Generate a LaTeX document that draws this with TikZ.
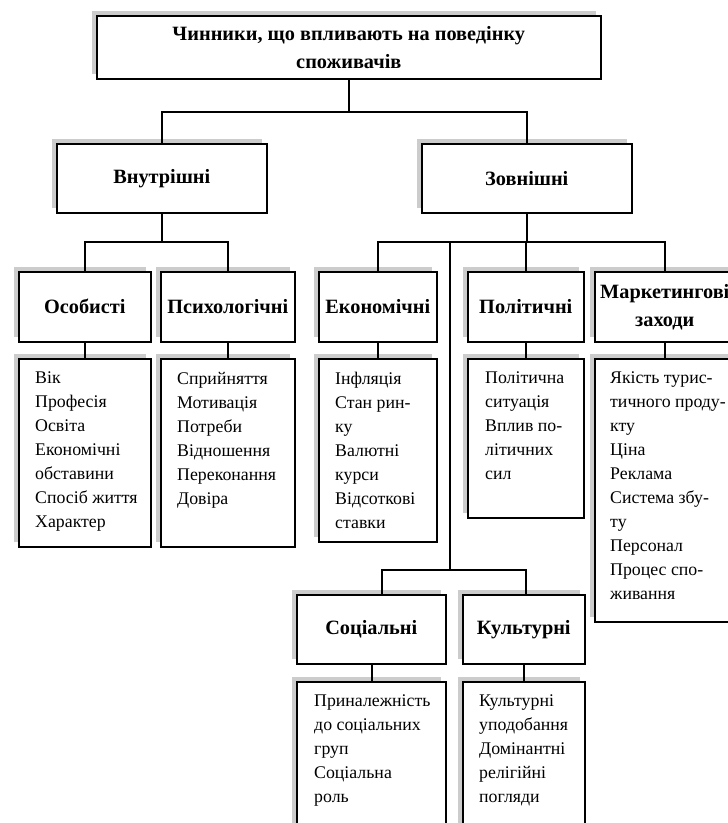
\documentclass[tikz,border=0pt]{standalone}
\usepackage{fontspec}
\setmainfont{Liberation Serif}
\usetikzlibrary{shadows}
\begin{document}
\begin{tikzpicture}[x=1pt,y=-1pt,
  sbox/.style={draw, line width=1.6pt, fill=white, inner sep=0pt, anchor=north west,
    general shadow={fill=gray!40, shadow xshift=-5pt, shadow yshift=5pt}},
  head/.style={font=\bfseries\fontsize{20.3}{28}\selectfont, align=center},
  det/.style={font=\fontsize{17.8}{24}\selectfont, align=left, anchor=north west, inner sep=0pt},
  conn/.style={line width=1.6pt}]
\clip (0,0) rectangle (728,823);
\fill[white] (0,0) rectangle (728,823);

% level 0
\node[sbox, head, minimum width=504pt, minimum height=63pt] (title) at (96,15)
  {Чинники, що впливають на поведінку\\споживачів};

% level 1
\node[sbox, head, minimum width=210pt, minimum height=69pt] (vn) at (56,143) {Внутрішні};
\node[sbox, head, minimum width=210pt, minimum height=69pt] (zov) at (421,143) {Зовнішні};

% level 2
\node[sbox, head, minimum width=132pt, minimum height=70pt] (os) at (18,271) {Особисті};
\node[sbox, head, minimum width=134pt, minimum height=70pt] (ps) at (160,271) {Психологічні};
\node[sbox, head, minimum width=118pt, minimum height=70pt] (ek) at (318,271) {Економічні};
\node[sbox, head, minimum width=116pt, minimum height=70pt] (pol) at (467,271) {Політичні};
\node[sbox, head, minimum width=140pt, minimum height=70pt] (mk) at (594,271) {Маркетингові\\заходи};

% level 3 detail boxes
\node[sbox, minimum width=132pt, minimum height=188pt] (osd) at (18,358) {};
\node[sbox, minimum width=134pt, minimum height=188pt] (psd) at (160,358) {};
\node[sbox, minimum width=118pt, minimum height=183pt] (ekd) at (318,358) {};
\node[sbox, minimum width=116pt, minimum height=159pt] (pold) at (467,358) {};
\node[sbox, minimum width=140pt, minimum height=263pt] (mkd) at (594,358) {};

\node[det] (osdt) at (35,372) {Вік\\Професія\\Освіта\\Економічні\\обставини\\Спосіб життя\\Характер};
\node[det] (psdt) at (177,372) {Сприйняття\\Мотивація\\Потреби\\Відношення\\Переконання\\Довіра};
\node[det] (ekdt) at (335,372) {Інфляція\\Стан рин-\\ку\\Валютні\\курси\\Відсоткові\\ставки};
\node[det] (poldt) at (485,372) {Політична\\ситуація\\Вплив по-\\літичних\\сил};
\node[det] (mkdt) at (610,372) {Якість турис-\\тичного проду-\\кту\\Ціна\\Реклама\\Система збу-\\ту\\Персонал\\Процес спо-\\живання};

% social / cultural
\node[sbox, head, minimum width=149pt, minimum height=69pt] (soc) at (296,594) {Соціальні};
\node[sbox, head, minimum width=122pt, minimum height=69pt] (kul) at (462,594) {Культурні};
\node[sbox, minimum width=149pt, minimum height=170pt] (socd) at (296,681) {};
\node[sbox, minimum width=122pt, minimum height=170pt] (kuld) at (462,681) {};
\node[det] (socdt) at (314,695) {Приналежність\\до соціальних\\груп\\Соціальна\\роль};
\node[det] (kuldt) at (479,695) {Культурні\\уподобання\\Домінантні\\релігійні\\погляди};

% connectors
\coordinate (b1) at (0,112);
\coordinate (b2) at (0,242);
\coordinate (jv) at (450,242);
\coordinate (jv2) at (450,570);
\coordinate (k1) at (382,570);
\coordinate (k2) at (526,570);
\coordinate (k3) at (372,672);

\draw[conn] (title.south) -- (title.south |- b1);
\draw[conn] (vn.north) |- (b1 -| zov.north) -- (zov.north);

\draw[conn] (vn.south) -- (vn.south |- b2);
\draw[conn] (os.north) |- (b2 -| ps.north) -- (ps.north);

\draw[conn] (zov.south) -- (zov.south |- b2);
\draw[conn] (ek.north) |- (b2 -| mk.north) -- (mk.north);
\draw[conn] (pol.north) -- (pol.north |- b2);
\draw[conn] (jv) -- (jv2);

\draw[conn] (os.south) -- (osd.north);
\draw[conn] (ps.south) -- (psd.north);
\draw[conn] (ek.south) -- (ekd.north);
\draw[conn] (pol.south) -- (pold.north);
\draw[conn] (mk.south) -- (mkd.north);

\draw[conn] (k1 |- soc.north) -- (k1) -- (k2) -- (k2 |- kul.north);
\draw[conn] (k3 |- soc.south) -- (k3 |- socd.north);
\draw[conn] (kul.south) -- (kuld.north);
\end{tikzpicture}
\end{document}
